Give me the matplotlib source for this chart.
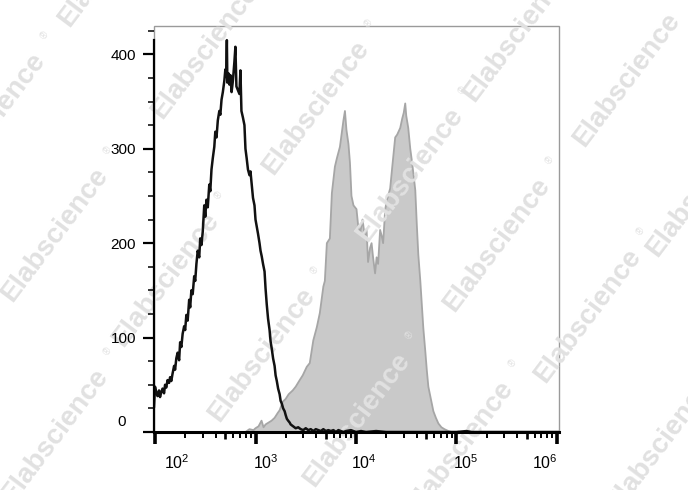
import numpy as np
import matplotlib
matplotlib.use("Agg")
import matplotlib.pyplot as plt
from matplotlib.ticker import FixedLocator, NullFormatter
from matplotlib.patches import Rectangle
import matplotlib.transforms as mtrans

plt.rcParams['font.family'] = ['Liberation Sans', 'DejaVu Sans']
plt.rcParams['mathtext.fontset'] = 'custom'
plt.rcParams['mathtext.rm'] = 'Liberation Sans'
plt.rcParams['mathtext.it'] = 'Liberation Sans'

# ---- data (x as log10 of fluorescence intensity, y as event count) ----
black_exp = [1.99, 2.00, 2.012, 2.025, 2.04, 2.05, 2.062, 2.075, 2.09, 2.10, 2.112, 2.125, 2.14, 2.15,
             2.162, 2.175, 2.19, 2.20, 2.212, 2.225, 2.24, 2.25, 2.262, 2.275, 2.29, 2.30, 2.312, 2.325,
             2.34, 2.35, 2.362, 2.375, 2.39, 2.40, 2.412, 2.425, 2.44, 2.45, 2.462, 2.475, 2.49, 2.50,
             2.512, 2.525, 2.54, 2.55, 2.562, 2.575, 2.59, 2.60, 2.612, 2.625, 2.64, 2.65, 2.662, 2.675,
             2.69, 2.70, 2.708, 2.715, 2.72, 2.73, 2.74, 2.75, 2.762, 2.775, 2.79, 2.80, 2.81, 2.825,
             2.84, 2.85, 2.86, 2.875, 2.89, 2.90, 2.912, 2.925, 2.94, 2.95, 2.962, 2.975, 2.99, 3.00,
             3.012, 3.025, 3.04, 3.05, 3.062, 3.075, 3.09, 3.10, 3.112, 3.125, 3.14, 3.15, 3.162, 3.175,
             3.19, 3.20, 3.212, 3.225, 3.24, 3.25, 3.262, 3.275, 3.29, 3.30, 3.312, 3.325, 3.34, 3.35,
             3.375, 3.40, 3.425, 3.45, 3.475, 3.50, 3.525, 3.55, 3.575, 3.60, 3.625, 3.65, 3.675, 3.70,
             3.725, 3.75, 3.775, 3.80, 3.825, 3.85, 3.875, 3.90, 3.95, 4.00, 4.05, 4.10, 4.20, 4.30,
             5.00, 5.10, 5.15, 6.02]
black_cnt = [27, 48, 42, 38, 44, 37, 42, 46, 41, 50, 47, 55, 52, 58, 54, 62, 70, 66, 78, 84, 76, 95,
             90, 104, 112, 108, 124, 118, 140, 132, 150, 146, 165, 160, 178, 192, 185, 205, 198, 212,
             240, 228, 246, 238, 262, 255, 278, 290, 302, 318, 312, 330, 340, 336, 352, 360, 372, 384,
             376, 415, 370, 380, 368, 378, 360, 372, 392, 408, 366, 362, 358, 383, 340, 333, 325, 300,
             290, 278, 272, 276, 262, 248, 240, 225, 218, 210, 200, 192, 186, 178, 170, 152, 135, 120,
             108, 96, 88, 78, 70, 60, 54, 46, 40, 33, 30, 25, 22, 18, 14, 12, 10, 8,
             6, 4, 5, 3, 2, 4, 2, 3, 1, 3, 2, 1, 3, 1,
             2, 1, 2, 0, 2, 1, 0, 1, 2, 0, 1, 0, 1, 0,
             0, 1, 0, 0]

gray_exp = [2.90, 2.94, 2.98, 3.00, 3.03, 3.06, 3.08, 3.10, 3.13, 3.16, 3.19, 3.22, 3.24, 3.27, 3.30,
            3.33, 3.37, 3.40, 3.44, 3.47, 3.51, 3.54, 3.575, 3.61, 3.64, 3.675, 3.69, 3.71, 3.74, 3.76,
            3.79, 3.81, 3.84, 3.86, 3.875, 3.89, 3.905, 3.925, 3.94, 3.955, 3.975, 4.005, 4.02, 4.04,
            4.065, 4.09, 4.105, 4.12, 4.14, 4.155, 4.17, 4.19, 4.205, 4.22, 4.24, 4.255, 4.27, 4.29,
            4.305, 4.32, 4.34, 4.36, 4.39, 4.41, 4.44, 4.46, 4.475, 4.49, 4.50, 4.52, 4.54, 4.555,
            4.57, 4.59, 4.605, 4.62, 4.64, 4.655, 4.67, 4.69, 4.705, 4.72, 4.745, 4.77, 4.795, 4.82,
            4.85, 4.88, 4.92, 4.95]
gray_cnt = [0, 3, 2, 4, 6, 12, 5, 8, 10, 12, 15, 20, 23, 32, 35,
            40, 44, 48, 55, 60, 69, 73, 97, 111, 126, 154, 160, 200, 205, 253,
            281, 290, 302, 318, 330, 340, 320, 305, 285, 250, 240, 236, 220, 210,
            225, 205, 215, 180, 195, 200, 185, 168, 185, 178, 214, 208, 200, 235,
            245, 250, 258, 280, 312, 315, 322, 332, 338, 348, 335, 322, 300, 288,
            275, 256, 220, 188, 160, 135, 110, 85, 65, 48, 35, 22, 15, 9,
            5, 3, 1, 0]

x_decades = [2, 3, 4, 5, 6]
y_ticks = [0, 100, 200, 300, 400]
watermark = "Elabscience"

# ---- figure ----
W, H = 688, 490
fig = plt.figure(figsize=(W / 100, H / 100), dpi=100)
fig.patch.set_facecolor('white')
ax = fig.add_axes([154 / W, 1 - 432 / H, (559 - 154) / W, (432 - 26) / H])
ax.set_xscale('log')
ax.set_xlim(10 ** 1.99, 10 ** 6.02)
ax.set_ylim(0, 430)

gx = 10 ** np.array(gray_exp)
gy = np.array(gray_cnt)
ax.fill_between(gx, 0, gy, facecolor='#c9c9c9', edgecolor='none', zorder=0.8)
ax.plot(gx, gy, color='#a6a6a6', lw=1.3, zorder=0.9)

bx = 10 ** np.array(black_exp)
by = np.array(black_cnt)
ax.plot(bx, by, color='#111111', lw=1.8, zorder=3)

# spines / frame
for s in ['top', 'right']:
    ax.spines[s].set_visible(False)
ax.add_patch(Rectangle((0, 0), 1, 1, transform=ax.transAxes, fill=False,
                       edgecolor='#9a9a9a', lw=1.0, zorder=0.5, clip_on=False))
ax.spines['left'].set_linewidth(1.6)
ax.spines['left'].set_bounds(0, 415)
ax.spines['bottom'].set_linewidth(2.2)
ax.spines['left'].set_zorder(4)
ax.spines['bottom'].set_zorder(4)

# y ticks
ax.set_yticks(y_ticks)
ax.set_yticklabels([''] + [str(v) for v in y_ticks[1:]])
ax.yaxis.set_minor_locator(FixedLocator([v for v in range(25, 430, 25) if v % 100 != 0]))
ax.tick_params(axis='y', which='major', length=8, width=1.6, direction='out', pad=5,
               labelsize=11, color='black')
ax.tick_params(axis='y', which='minor', length=4.5, width=1.1, direction='out', color='black')
ax.text(-0.07, 3, '0', transform=ax.get_yaxis_transform(), ha='right', va='bottom',
        fontsize=11)

# x ticks
ax.xaxis.set_major_locator(FixedLocator([10.0 ** d for d in x_decades]))
ax.xaxis.set_major_formatter(NullFormatter())
minors = []
for d in x_decades[:-1]:
    for k in [2, 3, 4, 6, 7, 8, 9]:
        minors.append(k * 10.0 ** d)
ax.xaxis.set_minor_locator(FixedLocator(minors))
ax.xaxis.set_minor_formatter(NullFormatter())
ax.tick_params(axis='x', which='major', length=8.5, width=2.6, direction='out', color='black')
ax.tick_params(axis='x', which='minor', length=4.2, width=1.4, direction='out', color='black')

# medium ticks at 5 x 10^n
xtr = ax.get_xaxis_transform()
for d in x_decades[:-1]:
    ax.plot([5 * 10.0 ** d, 5 * 10.0 ** d], [0, -6.5 / 406], transform=xtr,
            color='black', lw=1.9, clip_on=False, zorder=4, solid_capstyle='butt')

label_off = {2: 22, 3: 10, 4: 8, 5: 9, 6: -12}
for d in x_decades:
    tr = xtr + mtrans.ScaledTranslation(label_off[d] / 100, 0, fig.dpi_scale_trans)
    ax.text(10.0 ** d, -0.075, r'$10^{%d}$' % d, transform=tr, ha='center', va='center',
            fontsize=11.5)

# watermark
centers = [(112, -40), (-8, 120), (205, 52), (316, 108), (517, 35), (627, 80),
           (55, 235), (166, 280), (410, 175), (497, 245), (700, 190),
           (262, 355), (588, 316), (357, 420), (55, 436), (460, 448), (660, 445)]
ang = 53
L = 180
u = np.array([np.cos(np.radians(ang)), -np.sin(np.radians(ang))])
for cx, cy in centers:
    ax.text(cx / W, 1 - cy / H, watermark, transform=fig.transFigure, rotation=ang,
            rotation_mode='anchor', ha='center', va='center', fontsize=20,
            fontweight='bold', color='#e1e1e1', zorder=1.5, clip_on=False)
    rx, ry = np.array([cx, cy]) + (L / 2 + 8) * u + np.array([-6, -6])
    ax.text(rx / W, 1 - ry / H, '\u00ae', transform=fig.transFigure, rotation=ang,
            rotation_mode='anchor', ha='center', va='center', fontsize=7,
            color='#e1e1e1', zorder=1.5, clip_on=False)

fig.savefig('out.png', dpi=100, facecolor='white')
